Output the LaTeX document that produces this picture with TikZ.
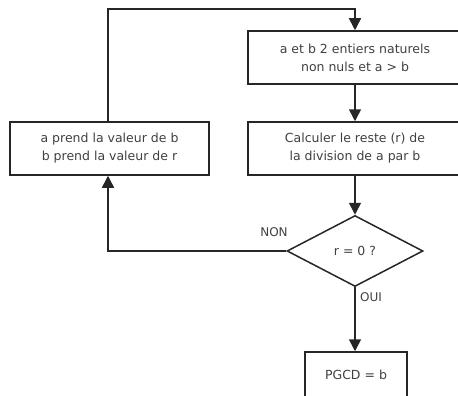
\documentclass[tikz,border=0pt]{standalone}
\usepackage{fontspec}
\setmainfont{DejaVu Sans}
\usetikzlibrary{shapes.geometric,arrows.meta}
\begin{document}
\begin{tikzpicture}[x=1pt,y=-1pt,
  ln/.style={draw=black!85,line width=1.5pt},
  arr/.style={ln,-{Triangle[length=12pt,width=12pt]}},
  box/.style={ln,rectangle,align=center,inner sep=0pt,text=black!75,
    font=\fontsize{12.5}{18}\selectfont},
  lbl/.style={text=black!75,font=\fontsize{12}{14}\selectfont,inner sep=0pt}]
\useasboundingbox (0,0) rectangle (458,396);
\clip (0,0) rectangle (458,396);
\node[box,minimum width=214pt,minimum height=53pt] (init) at (355,57.5)
  {a et b 2 entiers naturels\\non nuls et a > b};
\node[box,minimum width=214pt,minimum height=53pt] (calc) at (355,148.5)
  {Calculer le reste (r) de\\la division de a par b};
\node[box,minimum width=199pt,minimum height=53pt] (swap) at (109.5,148.5)
  {a prend la valeur de b\\b prend la valeur de r};
\node[box,shape=diamond,minimum width=136pt,minimum height=71pt] (test) at (355,251)
  {r = 0 ?};
\node[box,minimum width=102pt,minimum height=46pt] (res) at (356,375)
  {PGCD = b};
\coordinate (tl) at (108,9);
\coordinate (tr) at (355,9);
\coordinate (bl) at (108,251);
\draw[arr] (init) -- (calc);
\draw[arr] (calc) -- (test);
\draw[arr] (test.south) -- (res.north -| test.south);
\draw[arr] (test.west) -- (bl) -- (swap.south -| bl);
\draw[arr] (swap.north -| tl) -- (tl) -- (tr) -- (init.north);
\node[lbl] (non) at (274,232) {NON};
\node[lbl] (oui) at (371,297) {OUI};
\end{tikzpicture}
\end{document}
